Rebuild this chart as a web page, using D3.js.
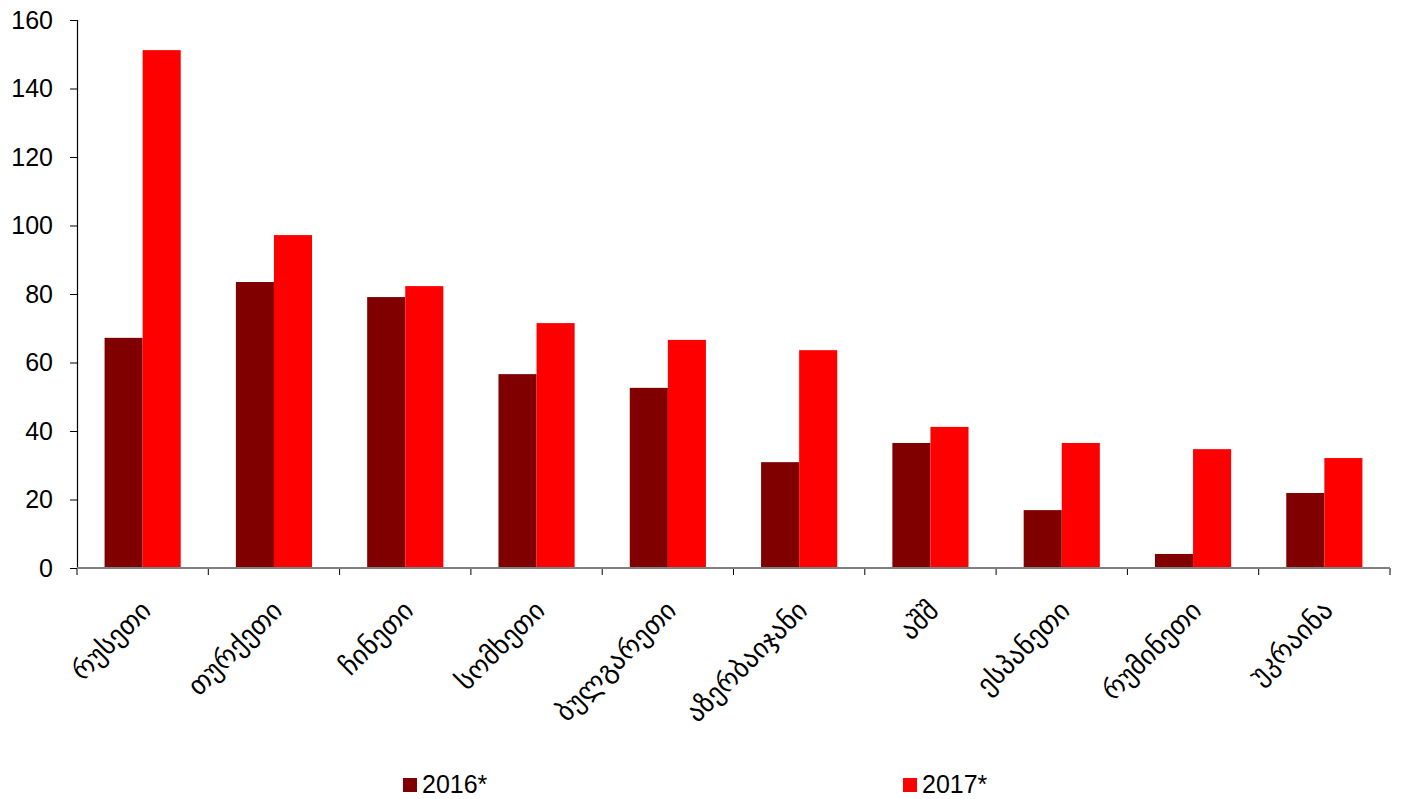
<!DOCTYPE html>
<html>
<head>
<meta charset="utf-8">
<script src="https://cdn.jsdelivr.net/npm/d3@7/dist/d3.min.js"></script>
<style>
  body { margin: 0; background: #fff; }
  svg { display: block; }
</style>
</head>
<body>
<svg id="chart" width="1402" height="799"></svg>
<script>
// data
const countries = ["რუსეთი", "თურქეთი", "ჩინეთი", "სომხეთი", "ბულგარეთი", "აზერბაიჯანი", "აშშ", "ესპანეთი", "რუმინეთი", "უკრაინა"];
const values2016 = [67.2, 83.5, 79.1, 56.6, 52.6, 30.9, 36.5, 16.9, 4.1, 21.9];
const values2017 = [151.2, 97.2, 82.3, 71.5, 66.6, 63.6, 41.2, 36.5, 34.7, 32.1];
const seriesNames = ["2016*", "2017*"];
const yTicks = [0, 20, 40, 60, 80, 100, 120, 140, 160];

const colors = ["#800000", "#ff0000"];
const margin = { top: 20, right: 12, bottom: 231, left: 77 };

const svg = d3.select("#chart");
const width = +svg.attr("width");
const height = +svg.attr("height");
const innerW = width - margin.left - margin.right;
const innerH = height - margin.top - margin.bottom;

const rows = countries.map((c, i) => ({ name: c, vals: [values2016[i], values2017[i]] }));

const x = d3.scaleBand().domain(countries).range([0, innerW]).paddingInner(0.42).paddingOuter(0.21);
const xs = d3.scaleBand().domain([0, 1]).range([0, x.bandwidth()]);
const y = d3.scaleLinear().domain([0, 160]).range([innerH, 0]);

const g = svg.append("g").attr("transform", `translate(${margin.left},${margin.top})`);

// bars
g.selectAll("g.group")
    .data(rows)
    .join("g")
    .attr("class", "group")
    .attr("transform", d => `translate(${x(d.name)},0)`)
    .selectAll("rect")
    .data(d => d.vals)
    .join("rect")
    .attr("x", (d, i) => xs(i))
    .attr("width", xs.bandwidth())
    .attr("y", d => y(d))
    .attr("height", d => innerH - y(d))
    .attr("fill", (d, i) => colors[i]);

// y axis
const yAxis = g.append("g")
    .call(d3.axisLeft(y).tickValues(yTicks).tickSize(7).tickPadding(17));
yAxis.select(".domain").attr("stroke", "#000").attr("stroke-width", 1.2);
yAxis.selectAll(".tick line").attr("stroke", "#000");
yAxis.selectAll("text")
    .style("font-family", "Arial, 'Liberation Sans', sans-serif")
    .style("font-size", "25px")
    .attr("fill", "#000");

// x axis: grey baseline and ticks at category boundaries
const bounds = d3.range(countries.length + 1).map(i => i * innerW / countries.length);
g.append("g")
    .attr("transform", `translate(0,${innerH})`)
    .selectAll("line")
    .data(bounds)
    .join("line")
    .attr("x1", d => d).attr("x2", d => d)
    .attr("y1", 0).attr("y2", 7)
    .attr("stroke", "#000");
g.append("line")
    .attr("x1", 0).attr("x2", innerW)
    .attr("y1", innerH).attr("y2", innerH)
    .attr("stroke", "#808080")
    .attr("stroke-width", 2);

// rotated category labels
g.append("g")
    .selectAll("text")
    .data(countries)
    .join("text")
    .attr("transform", d => `translate(${x(d) + x.bandwidth() / 2 + 10},${innerH + 44}) rotate(-45)`)
    .attr("text-anchor", "end")
    .style("font-family", "'DejaVu Sans', sans-serif")
    .style("font-size", "27px")
    .attr("fill", "#000")
    .text(d => d);

// legend
const legendX = [403, 903];
const legend = svg.append("g")
    .selectAll("g")
    .data(seriesNames)
    .join("g")
    .attr("transform", (d, i) => `translate(${legendX[i]},778)`);
legend.append("rect")
    .attr("width", 14).attr("height", 14)
    .attr("fill", (d, i) => colors[i]);
legend.append("text")
    .attr("x", 19).attr("y", 15)
    .style("font-family", "Arial, 'Liberation Sans', sans-serif")
    .style("font-size", "25px")
    .attr("fill", "#000")
    .text(d => d);
</script>
</body>
</html>
